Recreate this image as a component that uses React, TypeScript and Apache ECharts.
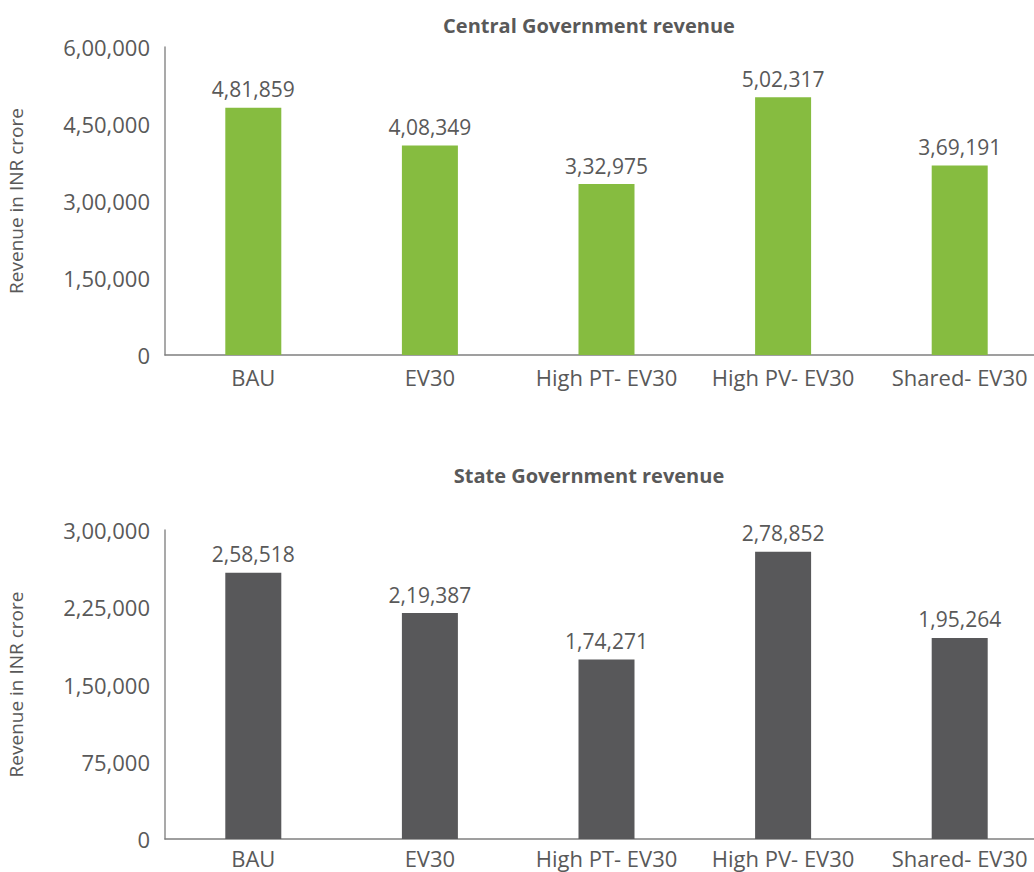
import React, { useEffect, useRef } from "react";
import * as echarts from "echarts";

const categories = ["BAU", "EV30", "High PT- EV30", "High PV- EV30", "Shared- EV30"];
const centralRevenue = [481859, 408349, 332975, 502317, 369191];
const stateRevenue = [258518, 219387, 174271, 278852, 195264];
const centralTitle = "Central Government revenue";
const stateTitle = "State Government revenue";
const yAxisName = "Revenue in INR crore";

const formatIN = (n: number): string => {
  const s = Math.round(n).toString();
  if (s.length <= 3) return s;
  const last3 = s.slice(-3);
  let rest = s.slice(0, -3);
  const parts: string[] = [];
  while (rest.length > 2) {
    parts.unshift(rest.slice(-2));
    rest = rest.slice(0, -2);
  }
  if (rest.length) parts.unshift(rest);
  return parts.join(",") + "," + last3;
};

const FONT = "'Open Sans', sans-serif";
const TEXT = "#595959";

export default function App() {
  const ref = useRef<HTMLDivElement>(null);
  useEffect(() => {
    if (!ref.current) return;
    const chart = echarts.init(ref.current, null, { renderer: "svg" });
    const yAxisCommon = {
      type: "value" as const,
      name: yAxisName,
      nameLocation: "middle" as const,
      nameRotate: 90,
      nameGap: 140,
      nameTextStyle: { color: TEXT, fontSize: 19, fontFamily: FONT },
      axisLine: { show: true, lineStyle: { color: "#8c8c8c", width: 1.5 } },
      axisTick: { show: false },
      splitLine: { show: false },
      axisLabel: {
        color: TEXT,
        fontSize: 22,
        fontFamily: FONT,
        margin: 15,
        formatter: (v: number) => formatIN(v),
      },
    };
    const xAxisCommon = {
      type: "category" as const,
      data: categories,
      axisLine: { show: true, lineStyle: { color: "#7f7f7f", width: 1.5 } },
      axisTick: { show: false },
      axisLabel: { color: TEXT, fontSize: 22, fontFamily: FONT, margin: 11, interval: 0 },
    };
    const labelCommon = {
      show: true,
      position: "top" as const,
      distance: 8,
      color: TEXT,
      fontSize: 21,
      fontFamily: FONT,
      formatter: (p: any) => formatIN(p.value),
    };
    chart.setOption({
      animation: false,
      title: [
        {
          text: centralTitle,
          left: 584,
          top: 10,
          textAlign: "center",
          textStyle: { color: TEXT, fontSize: 20, fontWeight: "bold", fontFamily: FONT },
        },
        {
          text: stateTitle,
          left: 584,
          top: 460,
          textAlign: "center",
          textStyle: { color: TEXT, fontSize: 20, fontWeight: "bold", fontFamily: FONT },
        },
      ],
      grid: [
        { left: 165, top: 47, height: 308, width: 883, outerBoundsMode: "none" },
        { left: 165, top: 530, height: 309, width: 883, outerBoundsMode: "none" },
      ],
      xAxis: [
        { ...xAxisCommon, gridIndex: 0 },
        { ...xAxisCommon, gridIndex: 1, axisLabel: { ...xAxisCommon.axisLabel, margin: 8 } },
      ],
      yAxis: [
        { ...yAxisCommon, gridIndex: 0, min: 0, max: 600000, interval: 150000 },
        { ...yAxisCommon, gridIndex: 1, min: 0, max: 300000, interval: 75000 },
      ],
      series: [
        {
          type: "bar",
          xAxisIndex: 0,
          yAxisIndex: 0,
          data: centralRevenue,
          barWidth: 56,
          itemStyle: { color: "#86bc40" },
          label: labelCommon,
        },
        {
          type: "bar",
          xAxisIndex: 1,
          yAxisIndex: 1,
          data: stateRevenue,
          barWidth: 56,
          itemStyle: { color: "#58585a" },
          label: labelCommon,
        },
      ],
    });
    return () => chart.dispose();
  }, []);
  return (
    <div
      ref={ref}
      style={{ position: "fixed", left: 0, top: 0, width: 1034, height: 872, background: "#fff" }}
    />
  );
}
